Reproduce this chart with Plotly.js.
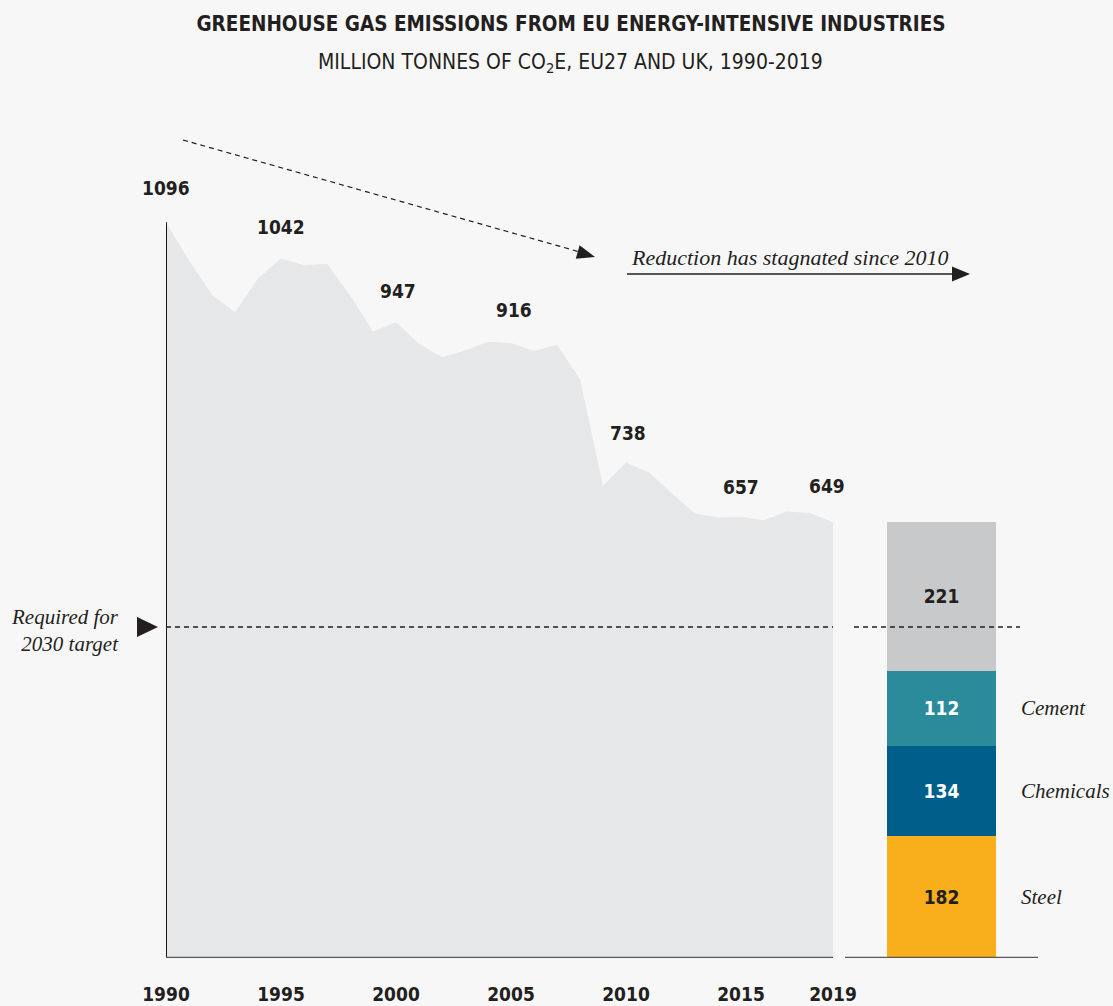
<!DOCTYPE html>
<html>
<head>
<meta charset="utf-8">
<script src="https://cdn.plot.ly/plotly-3.0.1.min.js"></script>
<style>
  html, body { margin: 0; padding: 0; background: #f7f7f7; }
  #chart { width: 1113px; height: 1006px; }
</style>
</head>
<body>
<div id="chart"></div>
<script>
// ---------------- DATA ----------------
const years = [1990, 1991, 1992, 1993, 1994, 1995, 1996, 1997, 1998, 1999,
               2000, 2001, 2002, 2003, 2004, 2005, 2006, 2007, 2008, 2009,
               2010, 2011, 2012, 2013, 2014, 2015, 2016, 2017, 2018, 2019];
const emissions = [1096, 1039, 988, 962, 1012, 1042, 1032, 1034, 987, 933,
                   947, 915, 895, 905, 918, 916, 904, 914, 862, 703,
                   738, 723, 692, 662, 656, 657, 652, 665, 663, 649];
const labelYears = [1990, 1995, 2000, 2005, 2010, 2015, 2019];
const tickYears = [1990, 1995, 2000, 2005, 2010, 2015, 2019];
const sectors = ['Steel', 'Chemicals', 'Cement', 'Other'];
const sectorValues = [182, 134, 112, 221];
const sectorLabelNames = ['Steel', 'Chemicals', 'Cement', ''];
const barCategory = ['2019'];
const target2030 = 493;
const titleText = 'GREENHOUSE GAS EMISSIONS FROM EU ENERGY-INTENSIVE INDUSTRIES';
const subtitleText = 'MILLION TONNES OF CO<sub>2</sub>E, EU27 AND UK, 1990-2019';
const trendNote = 'Reduction has stagnated since 2010';
const targetNote = 'Required for<br>2030 target';

// ---------------- STYLE ----------------
const sectorColors = ['#f9ae1b', '#005f8a', '#2b8b9b', '#c8c9cb'];
const sectorTextColors = ['#231f20', '#ffffff', '#ffffff', '#231f20'];
const CFONT = '"DejaVu Sans Condensed", "Liberation Sans Narrow", "Arial Narrow", sans-serif';
const SERIF = '"Liberation Serif", "DejaVu Serif", serif';
const INK = '#231f20';
const BG = '#f7f7f7';
const NUM_SIZE = 19;

// plot area geometry (pixels)
const L = 166, R = 1038, T = 100, B = 958;
const W = R - L, H = B - T;
const px = p => (p - L) / W;      // pixel x -> paper x
const py = p => (B - p) / H;      // pixel y -> paper y

function tri(pts) {
  return 'M ' + pts.map(p => px(p[0]).toFixed(5) + ',' + py(p[1]).toFixed(5)).join(' L ') + ' Z';
}

// ---------------- TRACES ----------------
const traces = [];
traces.push({
  type: 'scatter', x: years, y: emissions, mode: 'none',
  fill: 'tozeroy', fillcolor: '#e6e7e9', hoverinfo: 'skip',
  xaxis: 'x', yaxis: 'y', showlegend: false
});
sectors.forEach((s, i) => {
  traces.push({
    type: 'bar', name: s, x: barCategory, y: [sectorValues[i]],
    xaxis: 'x2', yaxis: 'y', width: 0.56,
    marker: { color: sectorColors[i], line: { width: 0 } },
    text: [String(sectorValues[i])], textposition: 'inside',
    insidetextanchor: 'middle', textangle: 0,
    insidetextfont: { family: CFONT, size: NUM_SIZE, color: sectorTextColors[i], weight: 'bold' },
    showlegend: false, hoverinfo: 'skip'
  });
});

// ---------------- ANNOTATIONS ----------------
const annotations = [];
const labelShiftY = [34, 31, 31, 33, 30, 30, 36];
const labelShiftX = [0, 0, 2, 3, 2, 0, -6];
labelYears.forEach((yr, i) => {
  const v = emissions[years.indexOf(yr)];
  annotations.push({
    x: yr, y: v, xref: 'x', yref: 'y', text: String(v), showarrow: false,
    xanchor: 'center', yanchor: 'middle', yshift: labelShiftY[i], xshift: labelShiftX[i],
    font: { family: CFONT, size: NUM_SIZE, color: INK, weight: 'bold' }
  });
});
const barTotal = sectorValues.reduce((a, b) => a + b, 0);
annotations.push({
  x: barCategory[0], y: barTotal, xref: 'x2', yref: 'y', text: String(barTotal),
  showarrow: false, yanchor: 'middle', yshift: 25,
  font: { family: CFONT, size: NUM_SIZE, color: INK, weight: 'bold' }
});
let cum = 0;
sectors.forEach((s, i) => {
  const mid = cum + sectorValues[i] / 2;
  cum += sectorValues[i];
  if (!sectorLabelNames[i]) return;
  annotations.push({
    x: px(1019), y: mid, xref: 'paper', yref: 'y', text: '<i>' + sectorLabelNames[i] + '</i>',
    showarrow: false, xanchor: 'left', yanchor: 'middle',
    font: { family: SERIF, size: 21, color: INK }
  });
});
annotations.push({
  x: px(790), y: py(257), xref: 'paper', yref: 'paper', text: '<i>' + trendNote + '</i>',
  showarrow: false, xanchor: 'center', yanchor: 'middle',
  font: { family: SERIF, size: 22, color: INK }
});
annotations.push({
  x: px(121), y: py(630), xref: 'paper', yref: 'paper', text: '<i>' + targetNote + '</i>',
  showarrow: false, xanchor: 'right', yanchor: 'middle', align: 'right',
  font: { family: SERIF, size: 21, color: INK }
});
annotations.push({
  x: px(570), y: py(63), xref: 'paper', yref: 'paper', text: subtitleText,
  showarrow: false, xanchor: 'center', yanchor: 'middle',
  font: { family: CFONT, size: 21, color: INK }
});

// ---------------- SHAPES ----------------
const shapes = [
  // left axis at 1990 up to first value
  { type: 'line', xref: 'x', yref: 'y', x0: years[0], x1: years[0], y0: 0, y1: emissions[0],
    line: { color: '#1a1a1a', width: 2 } },
  // bottom axis segments
  { type: 'line', xref: 'x', yref: 'y', x0: years[0], x1: years[years.length - 1], y0: 0, y1: 0,
    line: { color: '#58595b', width: 2.5 } },
  { type: 'line', xref: 'paper', yref: 'y', x0: px(845), x1: 1, y0: 0, y1: 0,
    line: { color: '#58595b', width: 2.5 } },
  // 2030 target dashed lines
  { type: 'line', xref: 'x', yref: 'y', x0: years[0], x1: years[years.length - 1], y0: target2030, y1: target2030,
    line: { color: INK, width: 1.3, dash: '5px,4px' } },
  { type: 'line', xref: 'paper', yref: 'y', x0: px(854), x1: px(1020), y0: target2030, y1: target2030,
    line: { color: INK, width: 1.3, dash: '5px,4px' } },
  // left pointer triangle
  { type: 'path', xref: 'paper', yref: 'paper', path: tri([[137, 617], [137, 637], [158, 627]]),
    fillcolor: INK, line: { width: 0 } },
  // dashed trend arrow
  { type: 'line', xref: 'paper', yref: 'paper', x0: px(183), y0: py(140), x1: px(580), y1: py(252),
    line: { color: INK, width: 1.2, dash: '5px,4px' } },
  { type: 'path', xref: 'paper', yref: 'paper', path: tri([[575.8, 258.7], [579.6, 245.3], [595, 257]]),
    fillcolor: INK, line: { width: 0 } },
  // solid stagnation arrow
  { type: 'line', xref: 'paper', yref: 'paper', x0: px(627), y0: py(274), x1: px(955), y1: py(274),
    line: { color: INK, width: 1.5 } },
  { type: 'path', xref: 'paper', yref: 'paper', path: tri([[952, 266.5], [952, 281.5], [970, 274]]),
    fillcolor: INK, line: { width: 0 } }
];

// ---------------- LAYOUT ----------------
const layout = {
  width: 1113, height: 1006,
  paper_bgcolor: BG, plot_bgcolor: 'rgba(0,0,0,0)',
  margin: { l: L, r: 1113 - R, t: T, b: 1006 - B, pad: 0 },
  showlegend: false,
  barmode: 'stack',
  title: {
    text: '<b>' + titleText + '</b>',
    x: 571 / 1113, xref: 'container', xanchor: 'center',
    y: 1 - 24 / 1006, yref: 'container', yanchor: 'middle',
    font: { family: CFONT, size: 20.5, color: INK }
  },
  xaxis: {
    domain: [0, px(833)], range: [years[0], years[years.length - 1]],
    showgrid: false, zeroline: false, showline: false, ticks: '',
    tickmode: 'array', tickvals: tickYears, ticktext: tickYears.map(String),
    tickfont: { family: CFONT, size: NUM_SIZE, color: INK, weight: 'bold' },
    ticklabelstandoff: 23, fixedrange: true
  },
  xaxis2: {
    domain: [px(845), 1], anchor: 'y', type: 'category', range: [-0.5, 0.5],
    visible: false, fixedrange: true
  },
  yaxis: {
    range: [0, 1278], visible: false, showgrid: false, zeroline: false, fixedrange: true
  },
  annotations: annotations,
  shapes: shapes
};

Plotly.newPlot('chart', traces, layout, { displayModeBar: false, staticPlot: true });
</script>
</body>
</html>
